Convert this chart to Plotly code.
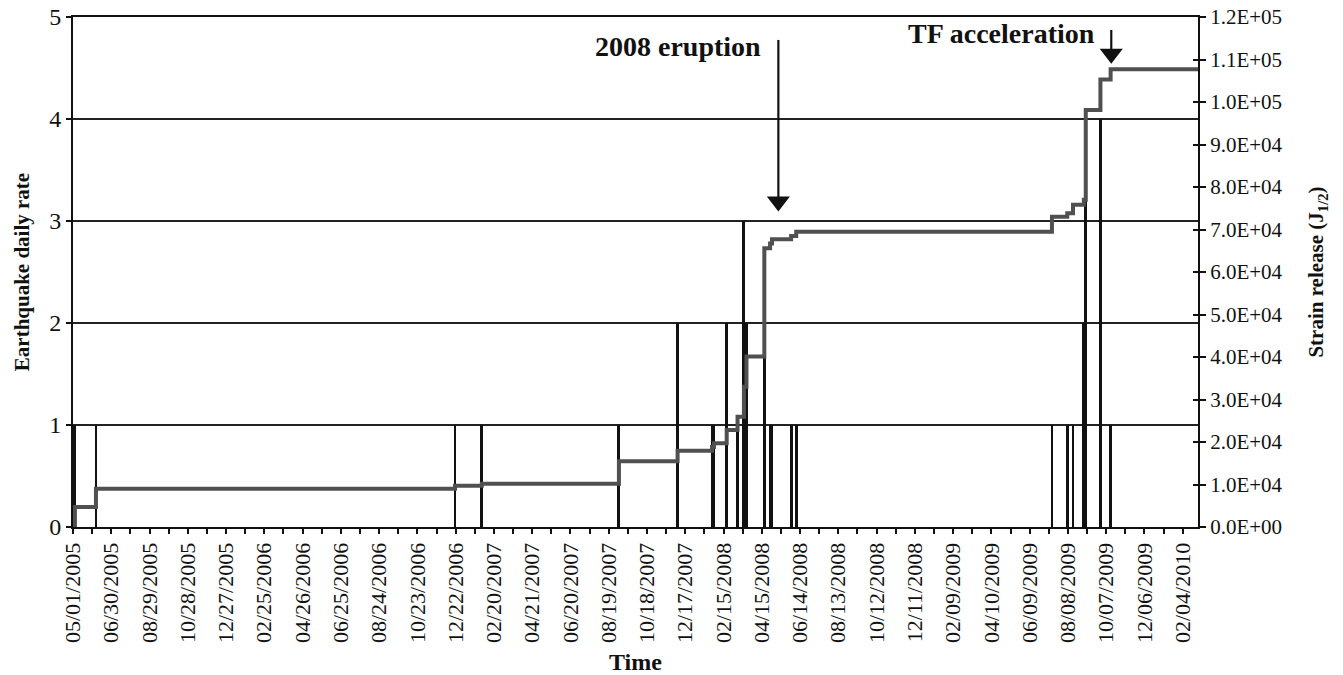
import plotly.graph_objects as go
import pandas as pd

# ---- data ----
event_dates = ["2005-05-04", "2005-06-06", "2006-12-21", "2007-02-01", "2007-09-04",
               "2007-12-05", "2008-01-28", "2008-01-31", "2008-02-20", "2008-03-08",
               "2008-03-18", "2008-03-22", "2008-04-19", "2008-04-28", "2008-05-01",
               "2008-05-31", "2008-06-08", "2009-07-14", "2009-08-07", "2009-08-16",
               "2009-09-02", "2009-09-05", "2009-09-28", "2009-10-14"]
daily_rate = [1, 1, 1, 1, 1,
              2, 1, 1, 2, 1,
              3, 2, 2, 1, 1,
              1, 1, 1, 1, 1,
              2, 4, 4, 1]

strain_dates = ["2005-05-01", "2005-05-04", "2005-06-06", "2006-12-21", "2007-02-01",
                "2007-09-04", "2007-12-05", "2008-01-28", "2008-01-31", "2008-02-20",
                "2008-03-08", "2008-03-18", "2008-03-22", "2008-04-19", "2008-04-28",
                "2008-05-01", "2008-05-31", "2008-06-08", "2009-07-14", "2009-08-07",
                "2009-08-16", "2009-09-02", "2009-09-05", "2009-09-28", "2009-10-14",
                "2010-02-28"]
strain_cum = [0, 4700, 9000, 9700, 10200,
              15500, 17950, 18800, 19700, 22800,
              25960, 33000, 40100, 65600, 66700,
              67700, 68500, 69500, 73000, 73800,
              75800, 77000, 98100, 105300, 107700,
              107700]

x_tick_labels = ["05/01/2005", "06/30/2005", "08/29/2005", "10/28/2005", "12/27/2005",
                 "02/25/2006", "04/26/2006", "06/25/2006", "08/24/2006", "10/23/2006",
                 "12/22/2006", "02/20/2007", "04/21/2007", "06/20/2007", "08/19/2007",
                 "10/18/2007", "12/17/2007", "02/15/2008", "04/15/2008", "06/14/2008",
                 "08/13/2008", "10/12/2008", "12/11/2008", "02/09/2009", "04/10/2009",
                 "06/09/2009", "08/08/2009", "10/07/2009", "12/06/2009", "02/04/2010"]
left_ticks = [0, 1, 2, 3, 4, 5]
right_ticks = [0, 10000, 20000, 30000, 40000, 50000, 60000, 70000, 80000, 90000,
               100000, 110000, 120000]
right_tick_labels = ["0.0E+00", "1.0E+04", "2.0E+04", "3.0E+04", "4.0E+04", "5.0E+04",
                     "6.0E+04", "7.0E+04", "8.0E+04", "9.0E+04", "1.0E+05", "1.1E+05",
                     "1.2E+05"]

# callouts: label, arrow date, arrow tail level, arrow tip level (left-axis units)
callout_labels = ["2008 eruption", "TF acceleration"]
callout_dates = ["2008-05-11", "2009-10-15"]
callout_tail = [4.775, 4.873]
callout_tip = [3.08, 4.53]
callout_text_date = ["2008-04-17", "2009-09-23"]
callout_text_level = [4.706, 4.843]

x_tick_vals = [pd.to_datetime(s, format="%m/%d/%Y").strftime("%Y-%m-%d") for s in x_tick_labels]

FONT = "Liberation Serif"
DAY_MS = 86400000

fig = go.Figure()
fig.add_trace(go.Bar(x=event_dates, y=daily_rate, width=4.5 * DAY_MS,
                     marker=dict(color="#111111", line=dict(width=0)),
                     yaxis="y", showlegend=False))
fig.add_trace(go.Scatter(x=strain_dates, y=strain_cum, mode="lines",
                         line=dict(color="#505050", width=4, shape="hv"),
                         yaxis="y2", showlegend=False))
# invisible trace to carry inner half of the crossing ticks on the right axis
fig.add_trace(go.Scatter(x=[strain_dates[0]], y=[0], mode="markers",
                         marker=dict(opacity=0), yaxis="y3", showlegend=False,
                         hoverinfo="skip"))

# callout arrows: shaft + filled triangular head
HEAD = 0.11  # head half-height in left-axis units
for d, t0, t1 in zip(callout_dates, callout_tail, callout_tip):
    fig.add_trace(go.Scatter(x=[d, d], y=[t0, t1 + HEAD], mode="lines",
                             line=dict(color="#111", width=2.2), yaxis="y",
                             showlegend=False, hoverinfo="skip"))
    fig.add_trace(go.Scatter(x=[d], y=[t1 + HEAD], mode="markers",
                             marker=dict(symbol="triangle-down", size=20, color="#111",
                                         line=dict(width=0)),
                             yaxis="y", showlegend=False, hoverinfo="skip"))

for lab, d, lv in zip(callout_labels, callout_text_date, callout_text_level):
    fig.add_annotation(x=d, y=lv, xref="x", yref="y", showarrow=False,
                       text="<b>" + lab + "</b>", xanchor="right", yanchor="middle",
                       font=dict(size=28, family=FONT, color="#111"))

fig.update_layout(
    width=1343, height=675,
    margin=dict(l=73, r=145, t=17, b=148, autoexpand=False),
    plot_bgcolor="white", paper_bgcolor="white",
    barmode="overlay", bargap=0,
    font=dict(family=FONT, color="#111111"),
    xaxis=dict(
        type="date", range=["2005-05-01", "2010-02-28"], automargin=False,
        tickvals=x_tick_vals, ticktext=x_tick_labels, tickangle=-90,
        tickfont=dict(size=22, family=FONT),
        ticks="outside", ticklen=5, tickwidth=1.5, tickcolor="#111",
        minor=dict(ticks="outside", dtick=30 * DAY_MS, tick0="2005-05-01",
                   ticklen=5, tickwidth=1.5, tickcolor="#111", showgrid=False),
        showline=True, linecolor="#111", linewidth=2, mirror=True,
        showgrid=False, zeroline=False,
        title=dict(text="<b>Time</b>", font=dict(size=24, family=FONT), standoff=12),
    ),
    yaxis=dict(
        range=[0, 5], tickvals=left_ticks, automargin=False,
        tickfont=dict(size=24, family=FONT),
        ticks="outside", ticklen=5, tickwidth=1.5, tickcolor="#111",
        showline=True, linecolor="#111", linewidth=2,
        showgrid=True, gridcolor="#222", gridwidth=1.5, zeroline=False,
        title=dict(text="<b>Earthquake daily rate</b>", font=dict(size=21, family=FONT),
                   standoff=14),
    ),
    yaxis2=dict(
        range=[0, 120000], overlaying="y", side="right", automargin=False,
        tickvals=right_ticks, ticktext=right_tick_labels,
        tickfont=dict(size=21, family=FONT),
        ticks="outside", ticklen=6, tickwidth=1.5, tickcolor="#111",
        showline=True, linecolor="#111", linewidth=2,
        showgrid=False, zeroline=False,
        title=dict(text="<b>Strain release (J<sub>1/2</sub>)</b>",
                   font=dict(size=21, family=FONT), standoff=27),
    ),
    yaxis3=dict(
        range=[0, 120000], overlaying="y", side="right", automargin=False,
        tickvals=right_ticks, showticklabels=False,
        ticks="inside", ticklen=5, tickwidth=1.5, tickcolor="#111",
        showline=False, showgrid=False, zeroline=False,
    ),
)

fig.write_html("out.html")
